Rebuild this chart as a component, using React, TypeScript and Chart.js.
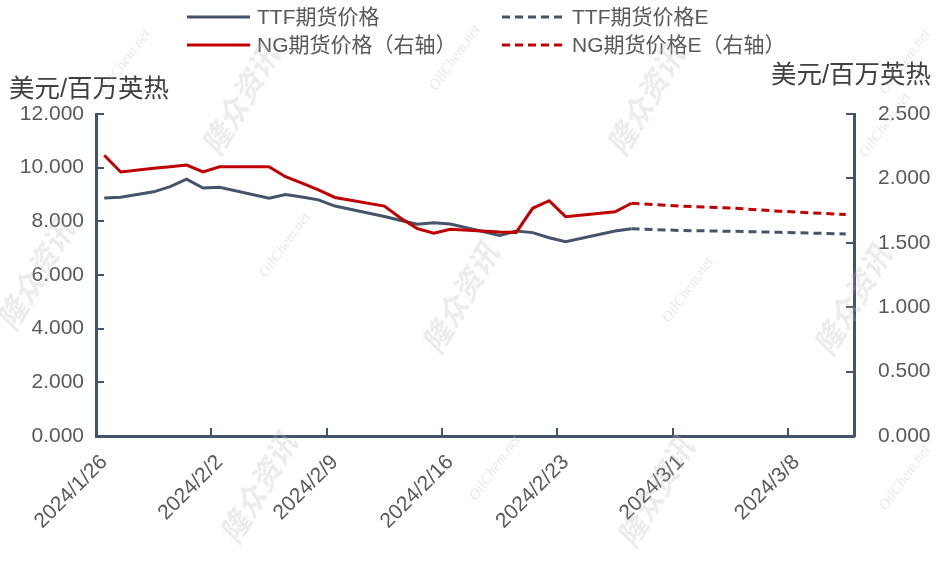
import { useEffect, useRef } from 'react';
import { Chart, registerables } from 'chart.js';

Chart.register(...registerables);

// ---------- data ----------
const AXIS_START = [2024, 0, 26];
const AXIS_DAY_COUNT = 46; // 2024/1/26 .. 2024/3/11
const TICK_EVERY = 7;

const actualDates = [
  '2024/1/26', '2024/1/27', '2024/1/29', '2024/1/30', '2024/1/31', '2024/2/1', '2024/2/2',
  '2024/2/5', '2024/2/6', '2024/2/7', '2024/2/8', '2024/2/9',
  '2024/2/12', '2024/2/13', '2024/2/14', '2024/2/15', '2024/2/16',
  '2024/2/19', '2024/2/20', '2024/2/21', '2024/2/22', '2024/2/23',
  '2024/2/26', '2024/2/27',
];
const ttfActual = [
  8.87, 8.9, 9.1, 9.29, 9.57, 9.24, 9.27,
  8.86, 9.0, 8.91, 8.8, 8.57,
  8.18, 8.03, 7.89, 7.95, 7.9,
  7.47, 7.64, 7.58, 7.39, 7.24,
  7.64, 7.72,
];
const ngActual = [
  2.18, 2.05, 2.078, 2.091, 2.104, 2.05, 2.09,
  2.09, 2.013, 1.964, 1.91, 1.852,
  1.785, 1.69, 1.61, 1.574, 1.605,
  1.584, 1.581, 1.768, 1.827, 1.703,
  1.741, 1.807,
];

const forecastDates = ['2024/2/27', '2024/3/1', '2024/3/4', '2024/3/7', '2024/3/11'];
const ttfForecast = [7.72, 7.66, 7.63, 7.59, 7.53];
const ngForecast = [1.807, 1.785, 1.77, 1.745, 1.72];

const leftTicks = [0, 2, 4, 6, 8, 10, 12];
const rightTicks = [0, 0.5, 1, 1.5, 2, 2.5];

const seriesNames = ['TTF期货价格', 'TTF期货价格E', 'NG期货价格（右轴）', 'NG期货价格E（右轴）'];
const unitTitle = '美元/百万英热';

// ---------- styles ----------
const AXIS_COLOR = '#44546A';
const TTF_COLOR = '#44546A';
const NG_COLOR = '#C00000';
const TEXT_COLOR = '#595959';
const FONT = "'Liberation Sans', 'Noto Sans CJK SC', sans-serif";
const DASH = [8, 5];

function buildAxisDays(): string[] {
  const out: string[] = [];
  for (let i = 0; i < AXIS_DAY_COUNT; i++) {
    const d = new Date(AXIS_START[0], AXIS_START[1], AXIS_START[2] + i);
    out.push(`${d.getFullYear()}/${d.getMonth() + 1}/${d.getDate()}`);
  }
  return out;
}
const axisDays = buildAxisDays();

const toPoints = (dates: string[], vals: number[]) => dates.map((d, i) => ({ x: d, y: vals[i] }));

const decorPlugin = {
  id: 'decor',
  afterDraw(chart: any) {
    const { ctx, chartArea: a, scales } = chart;
    const xs = scales.x;
    const yl = scales.y;
    const yr = scales.y1;
    ctx.save();

    // inside tick marks
    ctx.strokeStyle = AXIS_COLOR;
    ctx.lineWidth = 2;
    ctx.beginPath();
    for (let i = TICK_EVERY; i < axisDays.length; i += TICK_EVERY) {
      const px = Math.round((xs.getPixelForValue(i - 1) + xs.getPixelForValue(i)) / 2);
      ctx.moveTo(px, a.bottom);
      ctx.lineTo(px, a.bottom - 8);
    }
    leftTicks.forEach((v) => {
      const py = Math.round(yl.getPixelForValue(v));
      ctx.moveTo(a.left, py);
      ctx.lineTo(a.left + 8, py);
    });
    rightTicks.forEach((v) => {
      const py = Math.round(yr.getPixelForValue(v));
      ctx.moveTo(a.right, py);
      ctx.lineTo(a.right - 8, py);
    });
    ctx.stroke();

    // axis unit titles
    ctx.fillStyle = '#404040';
    ctx.font = `25.5px ${FONT}`;
    ctx.textBaseline = 'alphabetic';
    ctx.textAlign = 'left';
    ctx.fillText(unitTitle, 9, 97);
    ctx.textAlign = 'right';
    ctx.fillText(unitTitle, 931, 83);

    // legend
    const items = [
      { name: seriesNames[0], color: TTF_COLOR, dash: [] as number[], x: 187, y: 17 },
      { name: seriesNames[1], color: TTF_COLOR, dash: DASH, x: 502, y: 17 },
      { name: seriesNames[2], color: NG_COLOR, dash: [] as number[], x: 187, y: 45 },
      { name: seriesNames[3], color: NG_COLOR, dash: DASH, x: 502, y: 45 },
    ];
    ctx.font = `21px ${FONT}`;
    ctx.textAlign = 'left';
    ctx.textBaseline = 'middle';
    items.forEach((it) => {
      ctx.strokeStyle = it.color;
      ctx.lineWidth = 3;
      ctx.setLineDash(it.dash);
      ctx.beginPath();
      ctx.moveTo(it.x, it.y);
      ctx.lineTo(it.x + 63, it.y);
      ctx.stroke();
      ctx.setLineDash([]);
      ctx.fillStyle = TEXT_COLOR;
      ctx.fillText(it.name, it.x + 70, it.y + 1);
    });

    // watermarks
    const marks1 = [[240, 100], [460, 298], [645, 100], [852, 300], [35, 275], [258, 488], [655, 492]];
    const marks2 = [[125, 62], [455, 58], [905, 62], [285, 245], [688, 290], [495, 468], [905, 478], [885, 125]];
    ctx.textAlign = 'center';
    ctx.textBaseline = 'middle';
    ctx.fillStyle = 'rgba(185,185,185,0.28)';
    ctx.font = `italic bold 30px 'Noto Sans CJK SC', sans-serif`;
    marks1.forEach(([mx, my]) => {
      ctx.save();
      ctx.translate(mx, my);
      ctx.rotate(-Math.PI * 0.33);
      ctx.fillText('隆众资讯', 0, 0);
      ctx.restore();
    });
    ctx.fillStyle = 'rgba(185,185,185,0.32)';
    ctx.font = `italic 15px 'Liberation Serif', serif`;
    marks2.forEach(([mx, my]) => {
      ctx.save();
      ctx.translate(mx, my);
      ctx.rotate(-Math.PI * 0.3);
      ctx.fillText('OilChem.net', 0, 0);
      ctx.restore();
    });

    ctx.restore();
  },
};

export default function App() {
  const ref = useRef<HTMLCanvasElement | null>(null);

  useEffect(() => {
    if (!ref.current) return;
    const tickFont = { family: FONT, size: 21 };
    const chart = new Chart(ref.current, {
      type: 'line',
      data: {
        labels: axisDays,
        datasets: [
          {
            label: seriesNames[2],
            data: toPoints(actualDates, ngActual),
            yAxisID: 'y1',
            borderColor: NG_COLOR,
            backgroundColor: NG_COLOR,
            borderWidth: 3,
            pointRadius: 0,
            tension: 0,
          },
          {
            label: seriesNames[3],
            data: toPoints(forecastDates, ngForecast),
            yAxisID: 'y1',
            borderColor: NG_COLOR,
            backgroundColor: NG_COLOR,
            borderWidth: 3,
            borderDash: DASH,
            pointRadius: 0,
            tension: 0,
          },
          {
            label: seriesNames[0],
            data: toPoints(actualDates, ttfActual),
            yAxisID: 'y',
            borderColor: TTF_COLOR,
            backgroundColor: TTF_COLOR,
            borderWidth: 3,
            pointRadius: 0,
            tension: 0,
          },
          {
            label: seriesNames[1],
            data: toPoints(forecastDates, ttfForecast),
            yAxisID: 'y',
            borderColor: TTF_COLOR,
            backgroundColor: TTF_COLOR,
            borderWidth: 3,
            borderDash: DASH,
            pointRadius: 0,
            tension: 0,
          },
        ],
      },
      options: {
        responsive: false,
        animation: false,
        devicePixelRatio: 1,
        layout: { padding: { top: 114, left: 0, right: 0, bottom: 0 } },
        plugins: { legend: { display: false }, tooltip: { enabled: false } },
        scales: {
          x: {
            type: 'category',
            offset: true,
            grid: { display: false, drawTicks: false, offset: true },
            border: { display: true, color: AXIS_COLOR, width: 3 },
            afterFit: (s: any) => {
              s.height = 128;
            },
            ticks: {
              autoSkip: false,
              maxRotation: 45,
              minRotation: 45,
              padding: 14,
              color: TEXT_COLOR,
              font: tickFont,
              callback: (_v: any, i: number) => (i % TICK_EVERY === 0 ? axisDays[i] : ''),
            },
          },
          y: {
            type: 'linear',
            position: 'left',
            min: leftTicks[0],
            max: leftTicks[leftTicks.length - 1],
            grid: { display: false, drawTicks: false },
            border: { display: true, color: AXIS_COLOR, width: 3 },
            afterFit: (s: any) => {
              s.width = 96;
            },
            afterBuildTicks: (s: any) => {
              s.ticks = leftTicks.map((v) => ({ value: v }));
            },
            ticks: {
              padding: 12,
              color: TEXT_COLOR,
              font: tickFont,
              callback: (v: any) => Number(v).toFixed(3),
            },
          },
          y1: {
            type: 'linear',
            position: 'right',
            min: rightTicks[0],
            max: rightTicks[rightTicks.length - 1],
            grid: { display: false, drawTicks: false },
            border: { display: true, color: AXIS_COLOR, width: 3 },
            afterFit: (s: any) => {
              s.width = 86;
            },
            afterBuildTicks: (s: any) => {
              s.ticks = rightTicks.map((v) => ({ value: v }));
            },
            ticks: {
              padding: 24,
              color: TEXT_COLOR,
              font: tickFont,
              callback: (v: any) => Number(v).toFixed(3),
            },
          },
        },
      },
      plugins: [decorPlugin],
    } as any);
    return () => chart.destroy();
  }, []);

  return (
    <div style={{ position: 'absolute', left: 0, top: 0, width: 940, height: 564, background: '#fff' }}>
      <canvas ref={ref} width={940} height={564} style={{ display: 'block' }} />
    </div>
  );
}
